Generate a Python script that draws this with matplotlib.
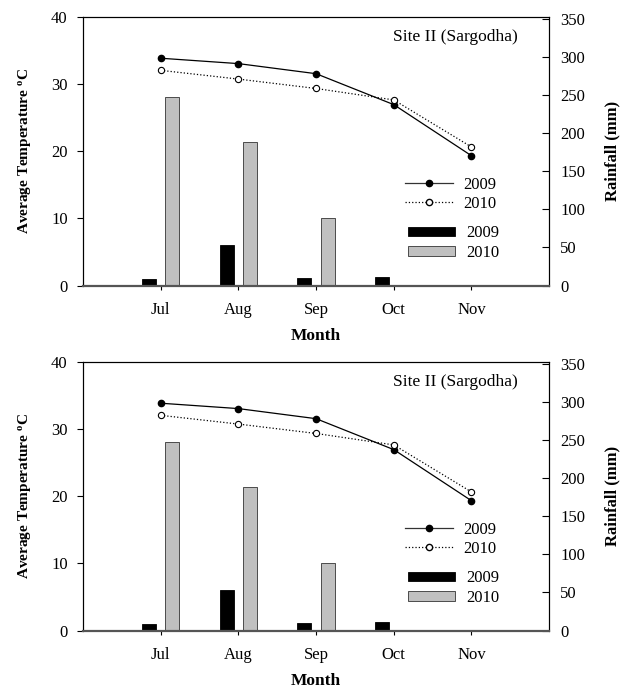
import matplotlib
matplotlib.use("Agg")
import matplotlib.pyplot as plt
from matplotlib.lines import Line2D
from matplotlib.patches import Patch

months = ["Jul", "Aug", "Sep", "Oct", "Nov"]
temp_2009 = [33.8, 33.0, 31.5, 26.9, 19.3]
temp_2010 = [32.0, 30.7, 29.3, 27.6, 20.6]
rain_2009 = [8.3, 53.8, 9.6, 10.9, 0.5]
rain_2010 = [248.0, 188.6, 88.4, 0.0, 0.0]
site_label = "Site II (Sargodha)"

plt.rcParams['font.family'] = ['Liberation Serif', 'DejaVu Serif']

fig = plt.figure(figsize=(6.3, 6.89), dpi=100)

TICK_FS = 12

def panel(rect):
    ax = fig.add_axes(rect)
    ax2 = ax.twinx()
    x = list(range(1, len(months) + 1))
    bw = 0.18
    ax2.bar([v - 0.15 for v in x], rain_2009, width=bw, color="black", edgecolor="black", linewidth=0.6)
    ax2.bar([v + 0.15 for v in x], rain_2010, width=bw, color="#c0c0c0", edgecolor="#333333", linewidth=0.6)
    ax2.set_ylim(0, 353)
    ax2.set_yticks([0, 50, 100, 150, 200, 250, 300, 350])
    ax2.tick_params(axis='y', direction='in', length=5, width=0.8, labelsize=TICK_FS, pad=8)
    ax2.set_ylabel("Rainfall (mm)", fontsize=12, fontweight='bold', labelpad=14)

    ax.set_zorder(ax2.get_zorder() + 1)
    ax.patch.set_visible(False)
    ax.plot(x, temp_2009, '-', color='black', lw=0.9, marker='o', ms=4.5,
            mfc='black', mec='black')
    ax.plot(x, temp_2010, ':', color='black', lw=0.9, marker='o', ms=4.5,
            mfc='white', mec='black', mew=0.8)
    ax.set_xlim(0, 6)
    ax.set_ylim(0, 40)
    ax.set_xticks(x)
    ax.set_xticklabels(months)
    ax.set_yticks([0, 10, 20, 30, 40])
    ax.tick_params(axis='y', direction='out', length=4, width=0.8, labelsize=TICK_FS, pad=7)
    ax.tick_params(axis='x', direction='out', length=3, width=0.8, labelsize=TICK_FS, pad=9)
    ax.set_xlabel("Month", fontsize=12.5, fontweight='bold', labelpad=7)
    ax.set_ylabel("Average Temperature $\\mathregular{^oC}$", fontsize=11, fontweight='bold', labelpad=13)
    for a in (ax, ax2):
        for s in a.spines.values():
            s.set_linewidth(0.8)
    ax.spines['bottom'].set_linewidth(1.6)
    ax.spines['bottom'].set_color('#555555')
    ax2.spines['bottom'].set_visible(False)

    ax.text(0.933, 0.924, site_label, transform=ax.transAxes, ha='right', va='center', fontsize=12.5)

    h_lines = [Line2D([], [], color='#333333', lw=0.9, marker='o', ms=4.5, mfc='black', mec='black'),
               Line2D([], [], color='black', lw=0.9, ls=':', marker='o', ms=4.5, mfc='white', mec='black')]
    leg1 = ax.legend(h_lines, ["2009", "2010"], loc='center left', bbox_to_anchor=(0.691, 0.338),
                     frameon=False, fontsize=TICK_FS, handlelength=2.9, handletextpad=0.6,
                     labelspacing=0.2, borderpad=0, borderaxespad=0)
    ax.add_artist(leg1)
    h_bars = [Patch(facecolor='black', edgecolor='black', lw=0.6),
              Patch(facecolor='#c0c0c0', edgecolor='#333333', lw=0.6)]
    ax.legend(h_bars, ["2009", "2010"], loc='center left', bbox_to_anchor=(0.697, 0.158),
              frameon=False, fontsize=TICK_FS, handlelength=2.8, handleheight=0.5,
              handletextpad=0.7, labelspacing=0.2, borderpad=0, borderaxespad=0)
    return ax

W = 0.740
H = 0.3904
panel([0.1317, 0.5856, W, H])
panel([0.1317, 0.0849, W, H])

fig.savefig("out.png", dpi=100)
